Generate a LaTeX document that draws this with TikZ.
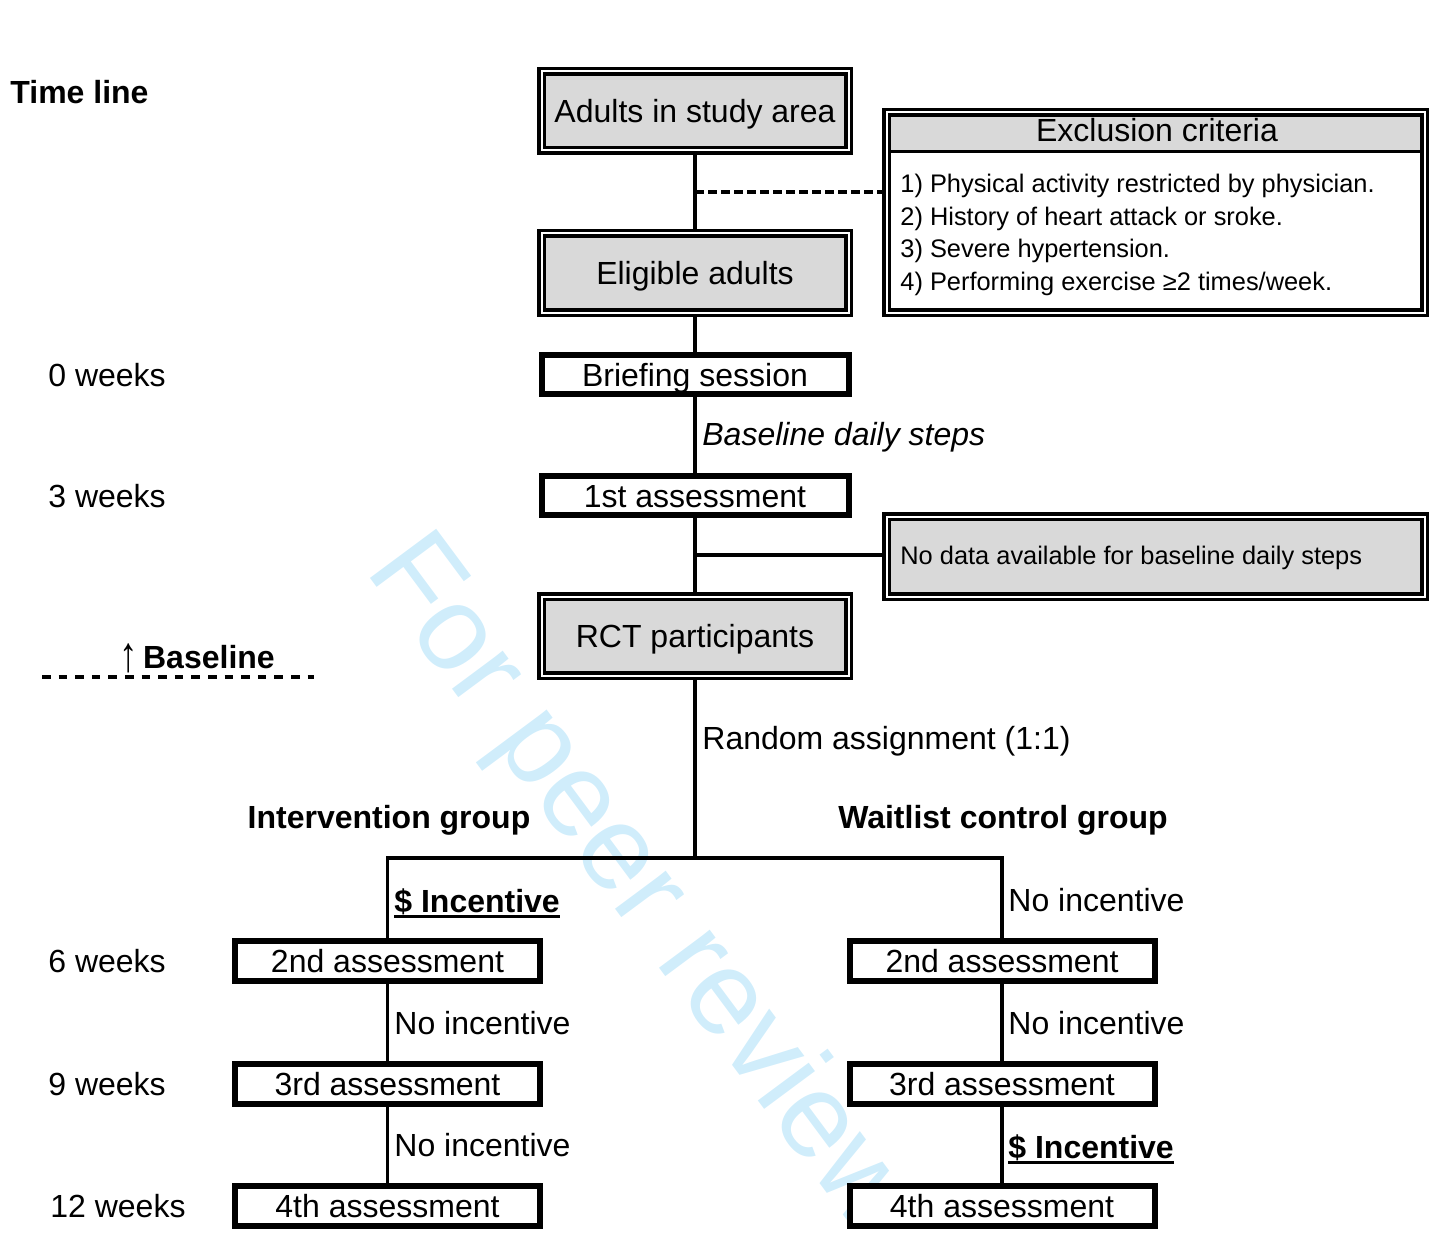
\documentclass[tikz,border=0pt]{standalone}
\usepackage{graphicx}
\usepackage{fontspec}
\setmainfont{Liberation Sans}
\usetikzlibrary{backgrounds}
\definecolor{boxgray}{RGB}{217,217,217}
\definecolor{wmblue}{RGB}{208,237,251}
\newcommand{\fsmain}{\fontsize{16}{19.2}\selectfont}
\newcommand{\fssmall}{\fontsize{12.7}{16}\selectfont}
\newcommand{\fswm}{\fontsize{60}{72}\selectfont}
\newcommand{\myul}[1]{\setbox0\hbox{#1}\rlap{\rule[-3pt]{\wd0}{1.3pt}}\box0}
\begin{document}
\begin{tikzpicture}[x=0.5pt,y=-0.5pt,
  dblbox/.style={draw, line width=1.75pt, double, double distance=1pt, fill=boxgray, inner sep=0pt,
    minimum width=153.5pt, minimum height=39.5pt, font=\fsmain, text height=11.5pt, text depth=0pt},
  thickbox/.style={draw, line width=3pt, fill=white, inner sep=0pt,
    minimum width=153.5pt, minimum height=19.75pt, font=\fsmain, text height=11.5pt, text depth=0pt},
  lbl/.style={inner sep=0pt, anchor=base west, font=\fsmain},
  blbl/.style={inner sep=0pt, anchor=base west, font=\fsmain\bfseries},
  slbl/.style={inner sep=0pt, anchor=base west, font=\fssmall},
  conn/.style={line width=1.7pt},
  ]
\useasboundingbox (0,0) rectangle (1431,1236);

% boxes
\node[dblbox] (adults) at (695,111) {Adults in study area};
\node[dblbox] (elig) at (695,273) {Eligible adults};
\node[thickbox] (brief) at (695,374.5) {Briefing session};
\node[thickbox] (a1) at (695,495.5) {1st assessment};
\node[dblbox] (rct) at (695,636) {RCT participants};

\node[draw, line width=1.75pt, double, double distance=1pt, fill=white, inner sep=0pt,
  minimum width=269pt, minimum height=100pt,
  path picture={
    \fill[boxgray] (path picture bounding box.north west) rectangle ([yshift=-19.75pt]path picture bounding box.north east);
    \draw[line width=1.5pt] ([yshift=-19.75pt]path picture bounding box.north west) -- ([yshift=-19.75pt]path picture bounding box.north east);
  }] (excl) at (1155.5,212.5) {};
\node[inner sep=0pt, anchor=base, font=\fsmain] (exh) at (1157,142) {Exclusion criteria};
\node[slbl] (ex1) at (900,192.5) {1) Physical activity restricted by physician.};
\node[slbl] (ex2) at (900,225.2) {2) History of heart attack or sroke.};
\node[slbl] (ex3) at (900,257.9) {3) Severe hypertension.};
\node[slbl] (ex4) at (900,290.6) {4) Performing exercise ≥2 times/week.};

\node[dblbox, minimum width=269pt, minimum height=40pt] (nodata) at (1155.5,556.5) {};
\node[slbl] (ndt) at (900,564) {No data available for baseline daily steps};

\node[thickbox, minimum width=152.5pt, minimum height=20pt] (l2) at (387.5,961) {2nd assessment};
\node[thickbox, minimum width=152.5pt, minimum height=20pt] (l3) at (387.5,1084) {3rd assessment};
\node[thickbox, minimum width=152.5pt, minimum height=20pt] (l4) at (387.5,1206) {4th assessment};
\node[thickbox, minimum width=152.5pt, minimum height=20pt] (r2) at (1002,961) {2nd assessment};
\node[thickbox, minimum width=152.5pt, minimum height=20pt] (r3) at (1002,1084) {3rd assessment};
\node[thickbox, minimum width=152.5pt, minimum height=20pt] (r4) at (1002,1206) {4th assessment};

% labels
\node[blbl] (tl) at (10,104) {Time line};
\node[lbl] (w0) at (48,386.5) {0 weeks};
\node[lbl] (w3) at (48,507.5) {3 weeks};
\node[lbl] (w6) at (48,972.5) {6 weeks};
\node[lbl] (w9) at (48,1095.5) {9 weeks};
\node[lbl] (w12) at (50,1217.5) {12 weeks};
\node[lbl, font=\fsmain\itshape] (bds) at (702,445) {Baseline daily steps};
\node[lbl] (ra) at (702,749.5) {Random assignment (1:1)};
\node[inner sep=0pt, anchor=base, font=\fsmain\bfseries] (ig) at (389,828.5) {Intervention group};
\node[inner sep=0pt, anchor=base, font=\fsmain\bfseries] (wg) at (1003,828.5) {Waitlist control group};
\node[blbl] (inc1) at (394,912) {\myul{\$ Incentive}};
\node[lbl] (ni1) at (1008,911.5) {No incentive};
\node[lbl] (ni2) at (394,1034.5) {No incentive};
\node[lbl] (ni3) at (1008,1034.5) {No incentive};
\node[lbl] (ni4) at (394,1156.5) {No incentive};
\node[blbl] (inc2) at (1008,1158) {\myul{\$ Incentive}};
\node[blbl] (bsl) at (119,668) {\raisebox{-1.6pt}{\scalebox{1.15}[1.55]{↑}}\,Baseline};

\coordinate (bl1) at (42,677);
\coordinate (bl2) at (314,677);
\draw[line width=1.8pt, dash pattern=on 4.3pt off 4pt] (bl1) -- (bl2);

\coordinate (j1) at (695,192);
\coordinate (j2) at (695,555);
\coordinate (split) at (695,858);

\begin{scope}[on background layer]
\node[inner sep=0pt, anchor=base west, rotate=-53.4, text=wmblue, font=\fswm] (wm) at (364,570) {For peer review};
\draw[conn] (adults.south) -- (elig.north);
\draw[conn] (elig.south) -- (brief.north);
\draw[conn] (brief.south) -- (a1.north);
\draw[conn] (a1.south) -- (rct.north);
\draw[conn, dash pattern=on 4.5pt off 2pt] (j1) -- (j1 -| excl.west);
\draw[conn] (j2) -- (j2 -| nodata.west);
\draw[conn] (rct.south) -- (split);
\draw[conn] (l2.north) |- (split) -| (r2.north);
\draw[conn] (l2.south) -- (l3.north);
\draw[conn] (l3.south) -- (l4.north);
\draw[conn] (r2.south) -- (r3.north);
\draw[conn] (r3.south) -- (r4.north);
\end{scope}
\end{tikzpicture}
\end{document}
